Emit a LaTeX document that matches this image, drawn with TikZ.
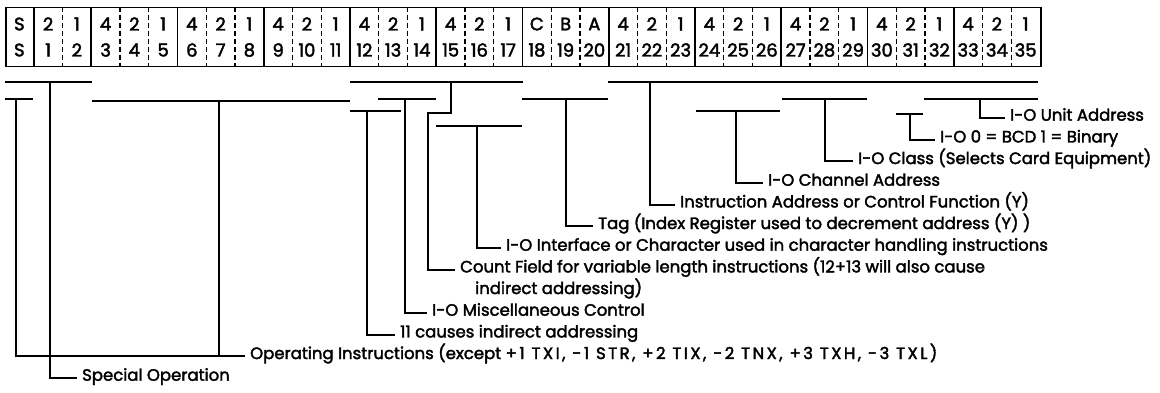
\documentclass[tikz,border=0pt]{standalone}
\usepackage{fontspec}
\setmainfont{Poppins}[FakeBold=2.2]
\begin{document}
\begin{tikzpicture}[x=1pt,y=-1pt,
  frame/.style={draw,line width=1.9pt},
  solidsep/.style={line width=1.9pt},
  dashsep/.style={line width=1.4pt,dash pattern=on 5pt off 3pt},
  brk/.style={line width=1.9pt},
  lbl/.style={anchor=mid west,inner xsep=5pt,inner ysep=0pt,font=\fontsize{16.5}{20}\selectfont},
  dig/.style={inner sep=0pt,font=\fontsize{18}{20}\selectfont}
]
\path[use as bounding box] (0,0) rectangle (1160,392);
\fill[white] (0,0) rectangle (1160,392);
% register
\node[frame,inner sep=0pt,minimum width=1035pt,minimum height=59pt,anchor=north west] (reg) at (5,6.5) {};
\foreach \i in {1,3,6,9,12,15,18,21,24,27,30,33}
  \draw[solidsep] ({5+28.75*\i},6.5) -- ({5+28.75*\i},65.5);
\foreach \i in {2,4,5,7,8,10,11,13,14,16,17,19,20,22,23,25,26,28,29,31,32,34,35}
  \draw[dashsep] ({5+28.75*\i},6.5) -- ({5+28.75*\i},65.5);
\foreach \t [count=\i from 0] in {S,2,1,4,2,1,4,2,1,4,2,1,4,2,1,4,2,1,C,B,A,4,2,1,4,2,1,4,2,1,4,2,1,4,2,1}
  \node[dig] (w\i) at ({5+28.75*(\i+0.5)},24) {\t};
\node[dig] (n0) at ({5+28.75*0.5},50) {S};
\foreach \i in {1,...,35}
  \node[dig] (n\i) at ({5+28.75*(\i+0.5)},50) {\i};
% bracket coordinates
\coordinate (Al) at (5,82);    \coordinate (Ar) at (92,82);    \coordinate (A) at (50,82);
\coordinate (Bl) at (5,99);    \coordinate (Br) at (33,99);    \coordinate (B) at (16,99);
\coordinate (Cl) at (92,101);  \coordinate (Cr) at (350,101);  \coordinate (C) at (219,101);
\coordinate (Dl) at (350,82);  \coordinate (Dr) at (523,82);   \coordinate (D) at (451,82);
\coordinate (El) at (350,111); \coordinate (Er) at (401,111);  \coordinate (E) at (367,111);
\coordinate (Fl) at (378,99);  \coordinate (Fr) at (436,99);   \coordinate (F) at (405,99);
\coordinate (Gl) at (436,126); \coordinate (Gr) at (522,126);  \coordinate (G) at (477,126);
\coordinate (Hl) at (522,99);  \coordinate (Hr) at (608,99);   \coordinate (H) at (566,99);
\coordinate (Il) at (608,82);  \coordinate (Ir) at (1038,82);  \coordinate (I) at (650,82);
\coordinate (Jl) at (696,111); \coordinate (Jr) at (780,111);  \coordinate (J) at (736,111);
\coordinate (Kl) at (782,99);  \coordinate (Kr) at (867,99);   \coordinate (K) at (825,99);
\coordinate (Ll) at (896,114); \coordinate (Lr) at (923,114);  \coordinate (L) at (910,114);
\coordinate (Ml) at (924,99);  \coordinate (Mr) at (1038,99);  \coordinate (M) at (980,99);
\coordinate (Dj1) at (451,113); \coordinate (Dj2) at (428,113);
\foreach \b in {A,B,C,D,E,F,G,H,I,J,K,L,M}
  \draw[brk] (\b l) -- (\b r);
% labels
\node[lbl] (lbM) at (1005,118) {I-O Unit Address};
\node[lbl] (lbL) at (935,139.7) {I-O 0 = BCD 1 = Binary};
\node[lbl] (lbK) at (853,161.3) {I-O Class (Selects Card Equipment)};
\node[lbl] (lbJ) at (763,183) {I-O Channel Address};
\node[lbl] (lbI) at (675,204.7) {Instruction Address or Control Function (Y)};
\node[lbl] (lbH) at (593,226.3) {Tag (Index Register used to decrement address (Y) )};
\node[lbl] (lbG) at (501,248) {I-O Interface or Character used in character handling instructions};
\node[lbl] (lbD) at (455,269.7) {Count Field for variable length instructions (12+13 will also cause};
\node[lbl] (lbD2) at (470,291.3) {indirect addressing)};
\node[lbl] (lbF) at (427,313) {I-O Miscellaneous Control};
\node[lbl] (lbE) at (395,334.7) {11 causes indirect addressing};
\node[lbl] (lbO) at (245,356.3) {Operating Instructions (except {\addfontfeatures{LetterSpace=15}+1 TXI, -1 STR, +2 TIX, -2 TNX, +3 TXH, -3 TXL)}};
\node[lbl] (lbA) at (77,378) {Special Operation};
% connectors
\draw[brk] (M) |- (lbM.mid west);
\draw[brk] (L) |- (lbL.mid west);
\draw[brk] (K) |- (lbK.mid west);
\draw[brk] (J) |- (lbJ.mid west);
\draw[brk] (I) |- (lbI.mid west);
\draw[brk] (H) |- (lbH.mid west);
\draw[brk] (G) |- (lbG.mid west);
\draw[brk] (D) -- (Dj1) -- (Dj2) |- (lbD.mid west);
\draw[brk] (F) |- (lbF.mid west);
\draw[brk] (E) |- (lbE.mid west);
\draw[brk] (B) |- (lbO.mid west);
\draw[brk] (C) |- (lbO.mid west);
\draw[brk] (A) |- (lbA.mid west);
\end{tikzpicture}
\end{document}
